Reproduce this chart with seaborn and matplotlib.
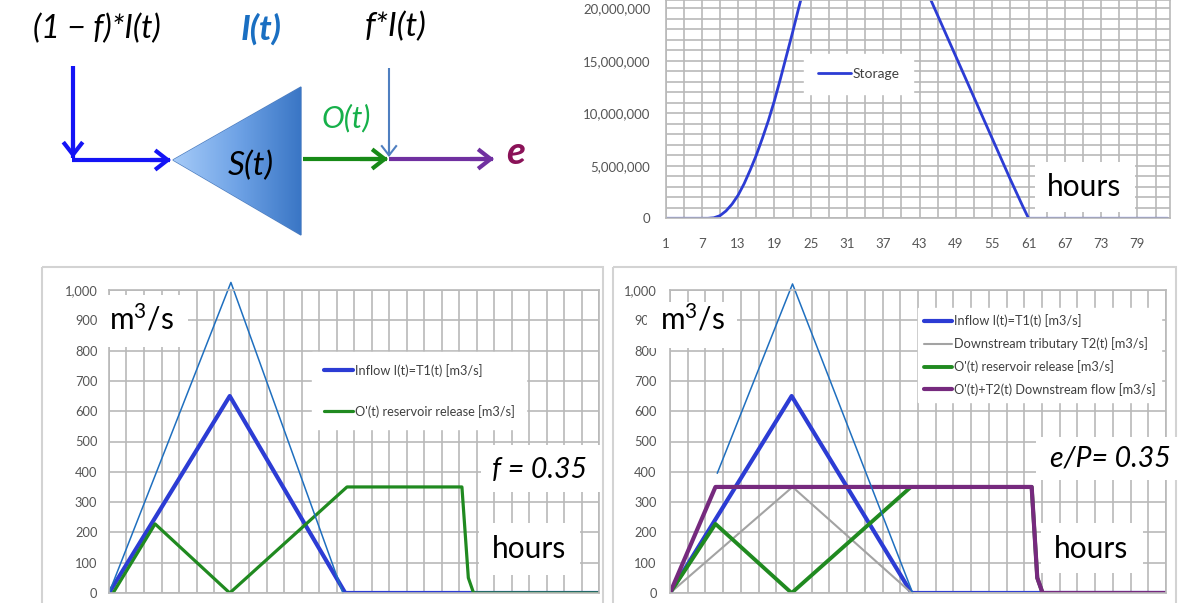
import numpy as np
import pandas as pd
import matplotlib
matplotlib.use("Agg")
import matplotlib.pyplot as plt
import seaborn as sns
from matplotlib.patches import Rectangle, Polygon, FancyArrowPatch
from matplotlib.colors import LinearSegmentedColormap
from matplotlib.lines import Line2D
from matplotlib.ticker import FuncFormatter, FixedLocator, MultipleLocator

# ---------------- data ----------------
storage_hours = [1, 8, 9, 10, 11, 12, 13, 14, 15, 16, 17, 18, 19, 20, 21, 22, 23, 24, 26, 28,
                 30, 32, 34, 36, 38, 40, 42, 44, 46, 48, 50, 52, 54, 56, 58, 60, 61, 84]
storage_mm3 = [0, 0, 0.05, 0.25, 0.7, 1.35, 2.2, 3.3, 4.6, 6.0, 7.6, 9.3, 11.2, 13.3, 15.5, 17.7,
               20.0, 22.2, 26.0, 28.8, 30.6, 31.6, 32.0, 31.8, 30.6, 27.5, 24.6, 21.9, 19.3, 16.7,
               14.1, 11.5, 8.9, 6.3, 3.7, 1.2, 0, 0]
storage_ticks = [1, 7, 13, 19, 25, 31, 37, 43, 49, 55, 61, 67, 73, 79]

# bottom-left chart (f = 0.35)
left_total_t = [1, 21.9, 41.1]
left_total_q = [0, 1025, 0]
left_inflow_t = [1, 21.7, 41.5, 85]
left_inflow_q = [0, 650, 0, 0]
left_release_t = [1.7, 8.9, 21.7, 41.8, 61.5, 62.6, 63.5, 85]
left_release_q = [0, 228, 0, 350, 350, 50, 0, 0]

# bottom-right chart (e/P = 0.35)
right_total_t = [9.0, 21.75, 42.1]
right_total_q = [395, 1020, 0]
right_inflow_t = [1, 21.6, 41.9, 85]
right_inflow_q = [0, 650, 0, 0]
right_trib_t = [1, 21.75, 41.9, 85]
right_trib_q = [0, 350, 0, 0]
right_release_t = [1, 8.7, 21.6, 41.8, 62.25, 63.2, 64.1, 85]
right_release_q = [0, 228, 0, 350, 350, 50, 0, 0]
right_down_t = [1, 8.7, 62.25, 63.2, 64.1, 85]
right_down_q = [0, 350, 350, 50, 0, 0]

lbl_inflow = "Inflow I(t)=T1(t) [m3/s]"
lbl_trib = "Downstream tributary T2(t) [m3/s]"
lbl_release = "O'(t) reservoir release [m3/s]"
lbl_down = "O'(t)+T2(t) Downstream flow [m3/s]"

# ---------------- style ----------------
sns.set_style("white")
plt.rcParams['font.family'] = ['Lato', 'DejaVu Sans']
plt.rcParams['mathtext.fontset'] = 'custom'
plt.rcParams['mathtext.rm'] = 'Lato'
plt.rcParams['mathtext.it'] = 'Lato:italic'

W, H = 1179, 603
fig = plt.figure(figsize=(W / 100, H / 100), dpi=100)
fig.patch.set_facecolor('white')

GRID = '#b9b9b9'
TICKC = '#555555'
BLUE = '#2c3cd4'
THIN = '#1f6fbf'
GREEN = '#208a20'
GRAY = '#a3a3a3'
PURPLE = '#762a7e'


def fx(px):
    return px / W


def fy(py):
    return 1 - py / H


def base_style(ax):
    for s in ax.spines.values():
        s.set_color(GRID)
        s.set_linewidth(1.2)
    ax.grid(True, which='both', color=GRID, lw=1.2)
    ax.set_axisbelow(True)
    ax.set_xlabel('')
    ax.set_ylabel('')


# ---------------- storage chart ----------------
ax_s = fig.add_axes([fx(665.5), fy(218.3), (1169.5 - 665.5) / W, 218.3 / H])
sdf = pd.DataFrame({'hour': storage_hours, 'storage': np.array(storage_mm3) * 1e6})
sns.lineplot(data=sdf, x='hour', y='storage', ax=ax_s, color=BLUE, lw=2.0,
             estimator=None, sort=False, label='Storage')
ax_s.set_xlim(1, 84.3)
ax_s.set_ylim(0, 20.79e6)
base_style(ax_s)
ax_s.xaxis.set_major_locator(FixedLocator(storage_ticks))
ax_s.xaxis.set_minor_locator(FixedLocator([t + 3 for t in storage_ticks]))
ax_s.yaxis.set_major_locator(MultipleLocator(5e6))
ax_s.yaxis.set_minor_locator(MultipleLocator(1e6))
ax_s.yaxis.set_major_formatter(FuncFormatter(lambda v, p: f"{v:,.0f}"))
ax_s.tick_params(axis='x', which='both', length=4, color=GRID, width=1.2, direction='out')
ax_s.tick_params(axis='x', which='major', labelsize=9.5, labelcolor=TICKC, pad=10)
ax_s.tick_params(axis='y', which='both', length=0, labelsize=9.5, labelcolor=TICKC, pad=11)
ax_s.legend(loc='upper left', bbox_to_anchor=(fx(797), fy(47)), bbox_transform=fig.transFigure,
            frameon=True, facecolor='white', edgecolor='white', framealpha=1, fancybox=False,
            handlelength=2.4, handletextpad=0.1, fontsize=10, borderpad=1.0,
            labelcolor='#404040')

# ---------------- bottom-left chart ----------------
ax_l = fig.add_axes([fx(109), fy(593), 490 / W, 303 / H])
sns.lineplot(x=left_inflow_t, y=left_inflow_q, ax=ax_l, color=BLUE, lw=3.0,
             estimator=None, sort=False)
sns.lineplot(x=left_release_t, y=left_release_q, ax=ax_l, color=GREEN, lw=2.3,
             estimator=None, sort=False)
sns.lineplot(x=left_total_t, y=left_total_q, ax=ax_l, color=THIN, lw=1.1,
             estimator=None, sort=False)
ax_l.lines[-1].set_clip_on(False)

# ---------------- bottom-right chart ----------------
ax_r = fig.add_axes([fx(670), fy(593), 496 / W, 303 / H])
sns.lineplot(x=right_inflow_t, y=right_inflow_q, ax=ax_r, color=BLUE, lw=3.0,
             estimator=None, sort=False)
sns.lineplot(x=right_trib_t, y=right_trib_q, ax=ax_r, color=GRAY, lw=1.5,
             estimator=None, sort=False)
sns.lineplot(x=right_release_t, y=right_release_q, ax=ax_r, color=GREEN, lw=2.8,
             estimator=None, sort=False)
sns.lineplot(x=right_down_t, y=right_down_q, ax=ax_r, color=PURPLE, lw=3.0,
             estimator=None, sort=False)
sns.lineplot(x=right_total_t, y=right_total_q, ax=ax_r, color=THIN, lw=1.1,
             estimator=None, sort=False)
ax_r.lines[-1].set_clip_on(False)

for ax, pad in ((ax_l, 8.3), (ax_r, 9.5)):
    ax.set_xlim(1, 85)
    ax.set_ylim(0, 1000)
    base_style(ax)
    ax.xaxis.set_major_locator(FixedLocator(list(range(1, 86, 3))))
    ax.yaxis.set_major_locator(MultipleLocator(100))
    ax.yaxis.set_major_formatter(FuncFormatter(lambda v, p: f"{v:,.0f}"))
    ax.tick_params(axis='x', length=3, color=GRID, width=1.2, labelbottom=False)
    ax.tick_params(axis='y', length=0, labelsize=9.3, labelcolor=TICKC, pad=pad)

leg_kw = dict(frameon=True, facecolor='white', edgecolor='white', framealpha=1, fancybox=False,
              handletextpad=0.1, fontsize=9.2, labelcolor='#404040', bbox_transform=fig.transFigure,
              loc='upper left')
ax_l.legend(handles=[Line2D([], [], color=BLUE, lw=3.0), Line2D([], [], color=GREEN, lw=2.3)],
            labels=[lbl_inflow, lbl_release], bbox_to_anchor=(fx(306), fy(346)),
            handlelength=2.3, labelspacing=2.2, borderpad=0.9, **leg_kw)
ax_r.legend(handles=[Line2D([], [], color=BLUE, lw=3.0), Line2D([], [], color=GRAY, lw=1.5),
                     Line2D([], [], color=GREEN, lw=2.8), Line2D([], [], color=PURPLE, lw=3.0)],
            labels=[lbl_inflow, lbl_trib, lbl_release, lbl_down], bbox_to_anchor=(fx(912), fy(302)),
            handlelength=2.2, labelspacing=0.78, borderpad=0.45, **leg_kw)

# ---------------- overlay: frames, boxes, diagram ----------------
ov = fig.add_axes([0, 0, 1, 1], zorder=5)
ov.set_xlim(0, W)
ov.set_ylim(H, 0)
ov.axis('off')

FRAME = '#d3d3d3'
ov.add_patch(Rectangle((42, 267), 561, 345, fill=False, ec=FRAME, lw=1.5, clip_on=False))
ov.add_patch(Rectangle((613, 267), 563, 345, fill=False, ec=FRAME, lw=1.5, clip_on=False))


def box(x0, y0, x1, y1, text, cx, cy, size, **kw):
    ov.add_patch(Rectangle((x0, y0), x1 - x0, y1 - y0, fc='white', ec='none'))
    ov.text(cx, cy, text, ha='center', va='center', fontsize=size, color='black', **kw)


box(1035, 162, 1135, 212, 'hours', 1084, 187, 21.5)
box(479, 523, 580, 575, 'hours', 529, 549, 21.5)
box(1041, 523, 1143, 573, 'hours', 1091, 549, 21.5)
box(103, 295, 188, 347, r'm$^\mathrm{3}$/s', 142, 319, 21.5)
box(647, 302, 737, 348, r'm$^\mathrm{3}$/s', 693, 319, 21.5)
box(481, 445, 600, 492, 'f = 0.35', 539, 470, 20.5, style='italic')
box(1036, 437, 1179, 480, 'e/P= 0.35', 1110, 458, 20.5, style='italic')

# diagram texts
ov.text(97, 29, '(1 − f)*I(t)', ha='center', va='center', fontsize=23, style='italic', color='black')
ov.text(261, 29, 'I(t)', ha='center', va='center', fontsize=25, style='italic',
        weight='bold', color='#1a6fc2')
ov.text(396, 27, 'f*I(t)', ha='center', va='center', fontsize=24, style='italic', color='black')
ov.text(346, 118, 'O(t)', ha='center', va='center', fontsize=22, style='italic', color='#16b04a')
ov.text(516, 152, 'e', ha='center', va='center', fontsize=28, style='italic', weight='bold',
        color='#8a1258')

# triangle with gradient
tri = Polygon([(173, 160), (301, 87), (301, 235)], closed=True, fc='none', ec='#4f7fc0', lw=1.0)
ov.add_patch(tri)
grad = np.linspace(0, 1, 256).reshape(1, -1)
cmap = LinearSegmentedColormap.from_list('tri', ['#a6cbf8', '#6fa3e6', '#3a76c5'])
im = ov.imshow(grad, extent=(173, 301, 235, 87), cmap=cmap, aspect='auto', zorder=1)
im.set_clip_path(tri)
ov.set_xlim(0, W)
ov.set_ylim(H, 0)
ov.text(251, 166, 'S(t)', ha='center', va='center', fontsize=24, style='italic', color='black',
        zorder=3)


def arrow(p0, p1, color, lw, ms=10, hl=0.9, hw=0.7):
    a = FancyArrowPatch(p0, p1, arrowstyle=f'->,head_length={hl},head_width={hw}',
                        mutation_scale=ms, lw=lw, color=color, shrinkA=0, shrinkB=0,
                        joinstyle='miter', capstyle='butt', zorder=4)
    ov.add_patch(a)


ov.plot([73, 73], [66, 158], color='#1414f5', lw=3.0, solid_capstyle='butt')
arrow((73, 140), (73, 158), '#1414f5', 3.0)
ov.plot([72, 170], [160, 160], color='#1414f5', lw=3.0, solid_capstyle='butt')
arrow((150, 160), (171, 160), '#1414f5', 3.0)
ov.plot([303, 387], [159, 159], color='#178a17', lw=3.0, solid_capstyle='butt')
arrow((360, 159), (388, 159), '#178a17', 3.0)
ov.plot([389, 389], [68, 156], color='#4f7fc0', lw=1.5, solid_capstyle='butt')
arrow((389, 140), (389, 157), '#4f7fc0', 1.5, ms=8)
ov.plot([389, 493], [159, 159], color='#7030a0', lw=3.0, solid_capstyle='butt')
arrow((470, 159), (494, 159), '#7030a0', 3.0)

fig.savefig('out.png', dpi=100, facecolor='white')
